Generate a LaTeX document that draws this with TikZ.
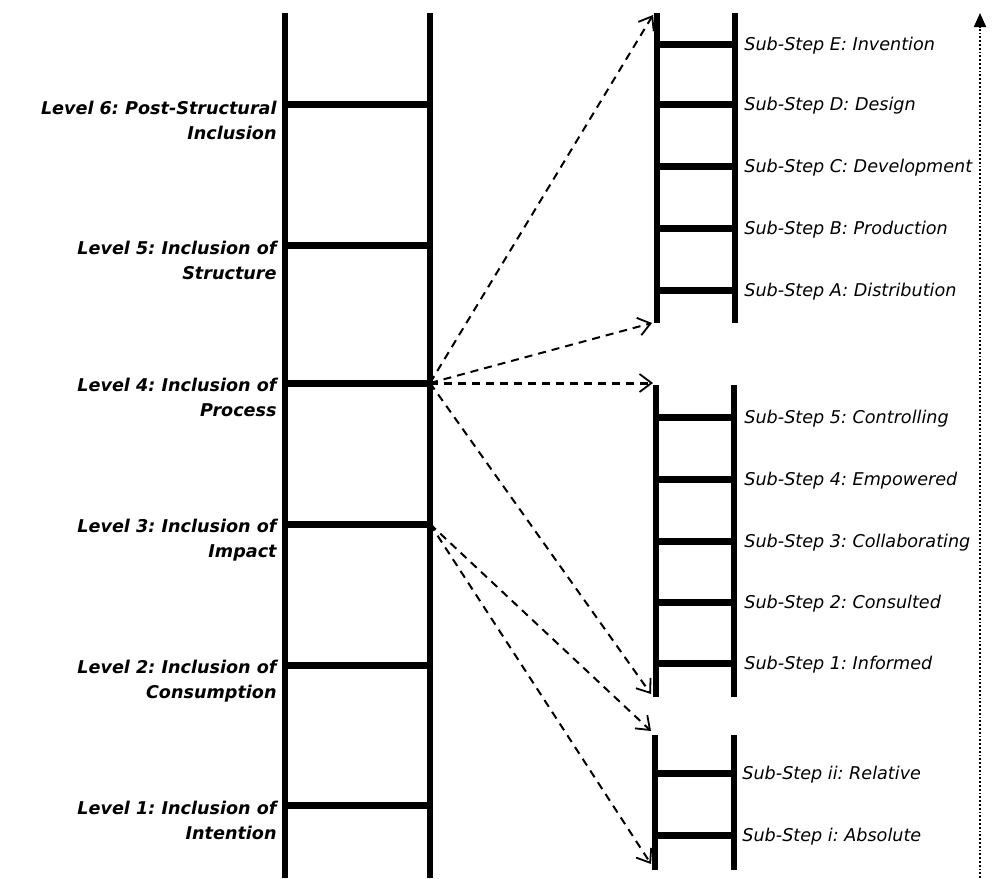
\documentclass[tikz,border=0pt]{standalone}
\usepackage{fontspec}
\setmainfont{DejaVu Sans}
\usepackage{tikz}
\usetikzlibrary{arrows.meta}
\frenchspacing
\tikzstyle{rail}=[line width=2.6pt]
\tikzstyle{rung}=[line width=3.5pt]
\tikzstyle{link}=[line width=1pt, dash pattern=on 4pt off 3pt, -{Straight Barb[length=6pt,width=9pt,line width=0.9pt]}]
\tikzstyle{levellabel}=[font=\bfseries\itshape\fontsize{8.8}{12.5}\selectfont, align=right, anchor=north east, inner sep=0pt]
\tikzstyle{steplabel}=[font=\itshape\fontsize{8.8}{11}\selectfont, anchor=base west, inner sep=0pt]

\begin{document}
\begin{tikzpicture}[x=0.5pt, y=-0.5pt]
          \useasboundingbox (0,0) rectangle (1000,878);
          % main ladder
          \coordinate (mainLtop) at (285,13);
          \coordinate (mainLbot) at (285,878);
          \coordinate (mainRtop) at (430,13);
          \coordinate (mainRbot) at (430,878);
          \draw[rail] (mainLtop) -- (mainLbot);
          \draw[rail] (mainRtop) -- (mainRbot);
          \coordinate (lvl6a) at (285,104); \coordinate (lvl6b) at (430,104);
          \coordinate (lvl5a) at (285,245); \coordinate (lvl5b) at (430,245);
          \coordinate (lvl4a) at (285,383); \coordinate (lvl4b) at (430,383);
          \coordinate (lvl3a) at (285,524); \coordinate (lvl3b) at (430,524);
          \coordinate (lvl2a) at (285,665); \coordinate (lvl2b) at (430,665);
          \coordinate (lvl1a) at (285,805); \coordinate (lvl1b) at (430,805);
          \draw[rung] (lvl6a) -- (lvl6b);
          \draw[rung] (lvl5a) -- (lvl5b);
          \draw[rung] (lvl4a) -- (lvl4b);
          \draw[rung] (lvl3a) -- (lvl3b);
          \draw[rung] (lvl2a) -- (lvl2b);
          \draw[rung] (lvl1a) -- (lvl1b);
          \node[levellabel] (lvl6txt) at (277,101) {Level 6: Post-Structural\\Inclusion};
          \node[levellabel] (lvl5txt) at (277,241) {Level 5: Inclusion of\\Structure};
          \node[levellabel] (lvl4txt) at (277,378) {Level 4: Inclusion of\\Process};
          \node[levellabel] (lvl3txt) at (277,519) {Level 3: Inclusion of\\Impact};
          \node[levellabel] (lvl2txt) at (277,660) {Level 2: Inclusion of\\Consumption};
          \node[levellabel] (lvl1txt) at (277,801) {Level 1: Inclusion of\\Intention};
          % ladder A-E
          \coordinate (topLtop) at (657,13);
          \coordinate (topLbot) at (657,323);
          \coordinate (topRtop) at (735,13);
          \coordinate (topRbot) at (735,323);
          \draw[rail] (topLtop) -- (topLbot);
          \draw[rail] (topRtop) -- (topRbot);
          \coordinate (stEa) at (657,44); \coordinate (stEb) at (735,44);
          \coordinate (stDa) at (657,104); \coordinate (stDb) at (735,104);
          \coordinate (stCa) at (657,166); \coordinate (stCb) at (735,166);
          \coordinate (stBa) at (657,228); \coordinate (stBb) at (735,228);
          \coordinate (stAa) at (657,290); \coordinate (stAb) at (735,290);
          \draw[rung] (stEa) -- (stEb);
          \draw[rung] (stDa) -- (stDb);
          \draw[rung] (stCa) -- (stCb);
          \draw[rung] (stBa) -- (stBb);
          \draw[rung] (stAa) -- (stAb);
          \node[steplabel] (stEtxt) at (744,50) {Sub-Step E: Invention};
          \node[steplabel] (stDtxt) at (744,110) {Sub-Step D: Design};
          \node[steplabel] (stCtxt) at (744,172) {Sub-Step C: Development};
          \node[steplabel] (stBtxt) at (744,234) {Sub-Step B: Production};
          \node[steplabel] (stAtxt) at (744,296) {Sub-Step A: Distribution};
          % ladder 1-5
          \coordinate (midLtop) at (656,385);
          \coordinate (midLbot) at (656,697);
          \coordinate (midRtop) at (734,385);
          \coordinate (midRbot) at (734,697);
          \draw[rail] (midLtop) -- (midLbot);
          \draw[rail] (midRtop) -- (midRbot);
          \coordinate (st5a) at (656,417); \coordinate (st5b) at (734,417);
          \coordinate (st4a) at (656,479); \coordinate (st4b) at (734,479);
          \coordinate (st3a) at (656,541); \coordinate (st3b) at (734,541);
          \coordinate (st2a) at (656,602); \coordinate (st2b) at (734,602);
          \coordinate (st1a) at (656,663); \coordinate (st1b) at (734,663);
          \draw[rung] (st5a) -- (st5b);
          \draw[rung] (st4a) -- (st4b);
          \draw[rung] (st3a) -- (st3b);
          \draw[rung] (st2a) -- (st2b);
          \draw[rung] (st1a) -- (st1b);
          \node[steplabel] (st5txt) at (744,423) {Sub-Step 5: Controlling};
          \node[steplabel] (st4txt) at (744,485) {Sub-Step 4: Empowered};
          \node[steplabel] (st3txt) at (744,547) {Sub-Step 3: Collaborating};
          \node[steplabel] (st2txt) at (744,608) {Sub-Step 2: Consulted};
          \node[steplabel] (st1txt) at (744,669) {Sub-Step 1: Informed};
          % ladder i-ii
          \coordinate (lowLtop) at (655,735);
          \coordinate (lowLbot) at (655,870);
          \coordinate (lowRtop) at (734,735);
          \coordinate (lowRbot) at (734,870);
          \draw[rail] (lowLtop) -- (lowLbot);
          \draw[rail] (lowRtop) -- (lowRbot);
          \coordinate (stiia) at (655,773); \coordinate (stiib) at (734,773);
          \coordinate (stia) at (655,835); \coordinate (stib) at (734,835);
          \draw[rung] (stiia) -- (stiib);
          \draw[rung] (stia) -- (stib);
          \node[steplabel] (stiitxt) at (742,779) {Sub-Step ii: Relative};
          \node[steplabel] (stitxt) at (742,841) {Sub-Step i: Absolute};
          % links between ladders
          \coordinate (toE) at (653,15);
          \coordinate (toA) at (652,323);
          \coordinate (to5) at (653,383);
          \coordinate (to1) at (651,694);
          \coordinate (toii) at (651,731);
          \coordinate (toi) at (651,864);
          \draw[link] (lvl4b) -- (toE);
          \draw[link] (lvl4b) -- (toA);
          \draw[link, line width=1.5pt] (lvl4b) -- (to5);
          \draw[link] (lvl4b) -- (to1);
          \draw[link] (lvl3b) -- (toii);
          \draw[link] (lvl3b) -- (toi);
          % upward scale
          \coordinate (scaleBot) at (980,878);
          \coordinate (scaleTop) at (980,13);
          \draw[line width=0.9pt, densely dotted, -{Triangle[length=7pt,width=6pt]}] (scaleBot) -- (scaleTop);
        \end{tikzpicture}
\end{document}
